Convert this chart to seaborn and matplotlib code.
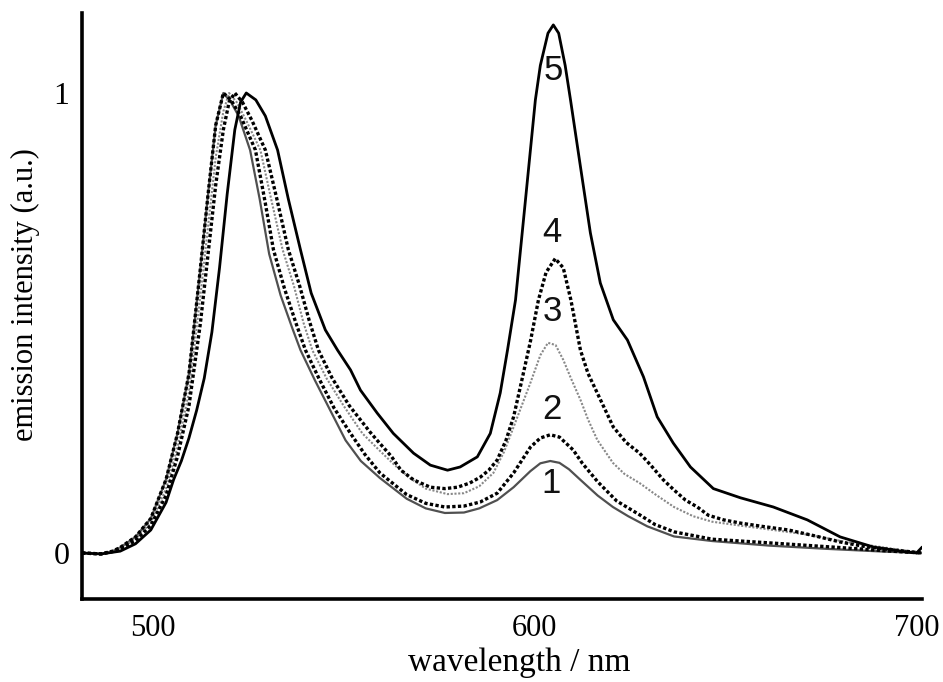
import matplotlib
matplotlib.use("Agg")
import matplotlib.pyplot as plt
import matplotlib.transforms as mtrans
import seaborn as sns
import pandas as pd

sns.set_theme(style="white")
plt.rcParams["font.family"] = ["Liberation Serif", "DejaVu Serif"]

# ── DATA ───────────────────────────────────────────────────
wl_1 = [480, 485, 488, 490, 494, 498, 502, 505, 508, 511, 513, 515, 517, 519, 521,
        524, 526.5, 529, 532, 535, 537.2, 541, 545, 549, 553, 558, 565, 570, 575,
        580, 584, 588.7, 593, 597.4, 600, 602.6, 605, 607.5, 610.5, 615, 619, 623,
        628, 635, 645, 660, 675, 690, 700]
em_1 = [0, -0.002, 0.004, 0.012, 0.035, 0.075, 0.16, 0.26, 0.39, 0.62, 0.78, 0.93, 1.0,
        0.98, 0.95, 0.876, 0.77, 0.65, 0.56, 0.49, 0.441, 0.375, 0.31, 0.245, 0.2,
        0.163, 0.118, 0.097, 0.087, 0.088, 0.097, 0.115, 0.143, 0.178, 0.195, 0.2,
        0.196, 0.182, 0.159, 0.125, 0.1, 0.08, 0.058, 0.036, 0.026, 0.016, 0.009,
        0.003, 0.0]

wl_2 = [480, 485, 488, 490, 494, 498, 502, 505, 508, 511, 513, 515, 517, 519, 521.5,
        525.4, 528, 530.1, 533, 536, 538.5, 542, 546, 550.3, 554, 558, 565, 570, 575,
        580, 584.3, 588.7, 593, 597.4, 600, 602.6, 605, 608.6, 611, 615, 620, 626,
        630, 635, 645, 660, 680, 690, 700]
em_2 = [0, -0.002, 0.004, 0.012, 0.035, 0.075, 0.16, 0.26, 0.39, 0.62, 0.78, 0.93, 1.0,
        0.985, 0.95, 0.876, 0.76, 0.66, 0.575, 0.5, 0.441, 0.38, 0.315, 0.26, 0.215,
        0.174, 0.127, 0.108, 0.1, 0.102, 0.111, 0.13, 0.174, 0.23, 0.25, 0.257, 0.252,
        0.224, 0.195, 0.155, 0.113, 0.083, 0.062, 0.046, 0.03, 0.022, 0.011, 0.005, 0.0]

wl_3 = [480, 485, 488, 490, 494, 498, 502, 505, 508, 511, 513, 515, 517, 518.5, 520.5,
        523, 526.7, 529.5, 532.5, 535.5, 538, 540.3, 544, 548.5, 553.4, 558, 562, 566,
        570, 575.7, 580, 584, 587.7, 590.5, 593, 597.4, 600, 602, 604, 606, 608,
        610.5, 612.5, 614.9, 619, 622, 626, 630, 635, 640, 645, 652, 661, 670, 680,
        690, 700]
em_3 = [0, -0.002, 0.004, 0.01, 0.03, 0.066, 0.14, 0.23, 0.35, 0.56, 0.71, 0.86, 0.96,
        1.0, 0.98, 0.94, 0.876, 0.77, 0.66, 0.58, 0.5, 0.441, 0.38, 0.32, 0.26, 0.222,
        0.19, 0.162, 0.14, 0.128, 0.13, 0.145, 0.174, 0.22, 0.274, 0.37, 0.43, 0.457,
        0.452, 0.42, 0.38, 0.333, 0.29, 0.246, 0.196, 0.172, 0.152, 0.128, 0.1, 0.08,
        0.068, 0.06, 0.05, 0.04, 0.024, 0.012, 0.0]

wl_4 = [480, 485, 488, 490, 494, 498, 502, 505, 508, 511, 513, 515, 517, 518.5, 520,
        522, 524.5, 528, 531, 534, 537, 539.5, 541.9, 545.5, 550, 555.5, 558, 561,
        563.5, 566.8, 571.2, 575, 578.3, 581.5, 584.3, 586.5, 588.7, 591, 593, 595,
        597.4, 599.5, 601.5, 603.9, 606, 608, 610.5, 612.5, 614.9, 619.1, 622.5, 626,
        629, 632.2, 635, 638, 641.1, 644, 648, 652.4, 658, 665, 672, 678.5, 685, 692,
        700]
em_4 = [0, -0.002, 0.003, 0.009, 0.027, 0.06, 0.125, 0.21, 0.32, 0.5, 0.65, 0.8, 0.92,
        0.98, 1.0, 0.98, 0.94, 0.876, 0.77, 0.66, 0.58, 0.505, 0.441, 0.38, 0.32,
        0.262, 0.238, 0.21, 0.18, 0.159, 0.143, 0.14, 0.143, 0.152, 0.165, 0.18,
        0.202, 0.245, 0.296, 0.37, 0.46, 0.55, 0.61, 0.64, 0.62, 0.55, 0.441, 0.39,
        0.348, 0.274, 0.24, 0.217, 0.19, 0.159, 0.137, 0.115, 0.1, 0.082, 0.072,
        0.065, 0.058, 0.05, 0.037, 0.024, 0.014, 0.007, 0.0]

wl_5 = [480, 485, 490, 494, 498, 502, 504, 506, 508, 510, 512, 514, 516, 518, 520,
        521.5, 523, 525.5, 528, 531.2, 534, 537.2, 540, 543.7, 546.9, 550.3, 552.9,
        557.3, 561.5, 566.8, 571.2, 575.7, 579, 583.5, 586.9, 589.5, 591.4, 593.5,
        596.1, 598.7, 600, 602, 603.4, 604.8, 606.5, 607.9, 610.5, 613.1, 615.7,
        619.1, 622.8, 627, 630.6, 634.8, 639.3, 645.3, 652.4, 661, 669.9, 678.5,
        687.2, 696.1, 698.5, 700]
em_5 = [0, -0.002, 0.004, 0.02, 0.05, 0.11, 0.16, 0.2, 0.25, 0.31, 0.38, 0.48, 0.62,
        0.78, 0.92, 0.98, 1.0, 0.985, 0.95, 0.876, 0.77, 0.659, 0.565, 0.485, 0.441,
        0.398, 0.354, 0.304, 0.26, 0.217, 0.191, 0.18, 0.187, 0.209, 0.26, 0.348,
        0.441, 0.55, 0.767, 0.985, 1.06, 1.13, 1.148, 1.13, 1.06, 0.985, 0.84, 0.696,
        0.587, 0.507, 0.463, 0.383, 0.296, 0.239, 0.187, 0.14, 0.12, 0.1, 0.072,
        0.035, 0.013, 0.002, 0.0, 0.013]

curve_labels = ["1", "2", "3", "4", "5"]
label_wl = [602.8, 603.1, 603.1, 603.1, 603.4]
label_em = [0.152, 0.311, 0.524, 0.696, 1.048]

x_ticks = [500, 600, 700]
y_ticks = [0, 1]

# ── PLOT ───────────────────────────────────────────────────
fig = plt.figure(figsize=(9.43, 6.82), dpi=100)
ax = fig.add_axes([0.087, 0.1217, 0.891, 0.8593])

dots = (0, (1, 0.7))
styles = {
    "1": dict(color="#505050", lw=1.6, ls="-"),
    "3": dict(color="#888888", lw=1.5, ls=(0, (1, 0.8))),
    "2": dict(color="black", lw=2.4, ls=dots),
    "4": dict(color="black", lw=2.4, ls=dots),
    "5": dict(color="black", lw=2.0, ls="-"),
}
series = {"1": (wl_1, em_1), "2": (wl_2, em_2), "3": (wl_3, em_3),
          "4": (wl_4, em_4), "5": (wl_5, em_5)}

for key in ["1", "3", "2", "4", "5"]:
    wl, em = series[key]
    df = pd.DataFrame({"wl": wl, "em": em})
    st = styles[key]
    sns.lineplot(data=df, x="wl", y="em", ax=ax, color=st["color"],
                 linewidth=st["lw"], linestyle=st["ls"], sort=False,
                 estimator=None)

for lab, xv, yv in zip(curve_labels, label_wl, label_em):
    ax.text(xv, yv, lab, ha="center", va="center", fontsize=25,
            family=["Liberation Sans", "DejaVu Sans"], color="#111111")

ax.set_xlim(480, 700)
ax.set_ylim(-0.1, 1.174)
ax.set_xticks(x_ticks)
ax.set_yticks(y_ticks)
ax.set_xticklabels([str(t) for t in x_ticks], fontsize=22)
ax.set_yticklabels([str(t) for t in y_ticks], fontsize=23)

for side in ["top", "right"]:
    ax.spines[side].set_visible(False)
for side in ["left", "bottom"]:
    ax.spines[side].set_linewidth(2.6)
    ax.spines[side].set_color("black")

ax.tick_params(axis="y", direction="out", length=5, width=1.8, pad=4, colors="black")
ax.tick_params(axis="x", direction="out", length=3, width=1.8, pad=8, colors="black")

# tick labels in the scan sit a few pixels left of their ticks
shift = mtrans.ScaledTranslation(-6 / 100, 0, fig.dpi_scale_trans)
for lbl in ax.get_xticklabels():
    lbl.set_transform(lbl.get_transform() + shift)

ax.set_xlabel("wavelength / nm", fontsize=24, color="black")
ax.set_ylabel("emission intensity (a.u.)", fontsize=22, color="black")
ax.xaxis.set_label_coords(0.52, -0.083)
ax.yaxis.set_label_coords(-0.05, 0.52)

fig.savefig("out.png", dpi=100, facecolor="white")
